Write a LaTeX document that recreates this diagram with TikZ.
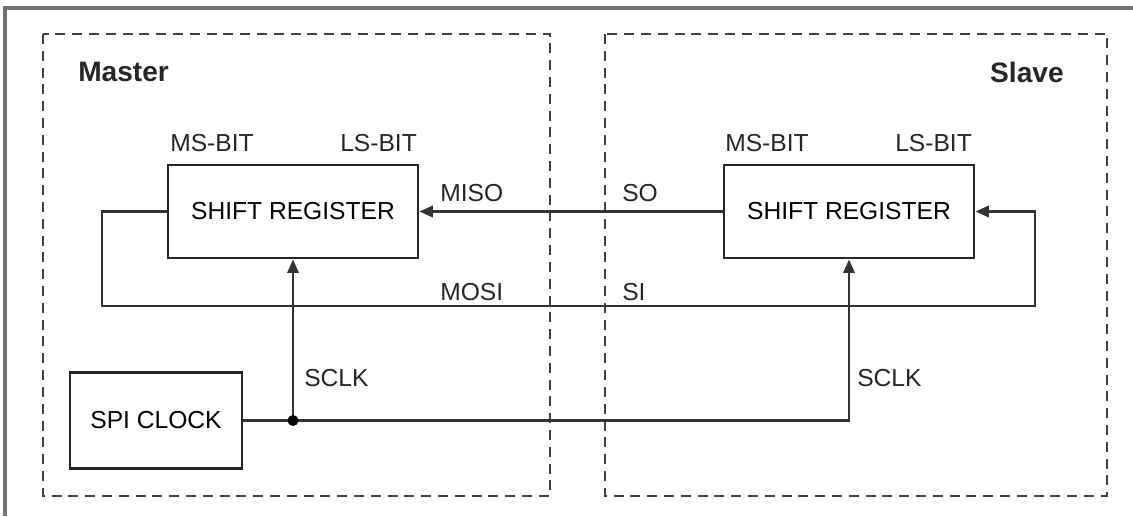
\documentclass[tikz,border=0pt]{standalone}
\usepackage{fontspec}
\setmainfont{Liberation Sans}
\usetikzlibrary{arrows.meta}
\tikzset{reg/.style = {draw=black!85, line width=1.8pt, minimum width=6.25cm, minimum height=2.33cm, inner sep=0pt, font=\fontsize{17.5}{20}\selectfont},
  lbl/.style = {anchor=west, inner sep=0pt, text=black!85, font=\fontsize{17.5}{20}\selectfont},
  ttl/.style = {inner sep=0pt, text=black!85, font=\fontsize{20}{24}\selectfont\bfseries},
  sig/.style = {draw=black!80, line width=2pt},
  tip/.style = {-{Triangle[length=0.34cm, width=0.28cm]}},
  side/.style = {draw=black!75, line width=1.7pt, dash pattern=on 0.25cm off 0.17cm}}

\begin{document}
\begin{tikzpicture}[x=0.025cm, y=-0.025cm]
        \useasboundingbox (0,0) rectangle (1133,516);
        \draw [black!55, line width=2.4pt] (5,516) -- (5,8) -- (1133,8);
        \draw [side] (43,34) rectangle (550,496);
        \draw [side] (605,34) rectangle (1107,496);
        \node [ttl, anchor=west] (master) at (78,72) {Master};
        \node [ttl, anchor=east] (slave) at (1064,72) {Slave};
        \node [reg] (mreg) at (293,211.5) {SHIFT REGISTER};
        \node [reg] (sreg) at (849,211.5) {SHIFT REGISTER};
        \node [reg, minimum width=4.3cm, minimum height=2.4cm] (clk) at (156,420.5) {SPI CLOCK};
        \node [lbl] (mmsb) at (170,143) {MS-BIT};
        \node [lbl] (mlsb) at (340,143) {LS-BIT};
        \node [lbl] (smsb) at (725,143) {MS-BIT};
        \node [lbl] (slsb) at (895,143) {LS-BIT};
        \node [lbl] (miso) at (440,193) {MISO};
        \node [lbl] (so) at (622,193) {SO};
        \node [lbl] (mosi) at (440,292) {MOSI};
        \node [lbl] (si) at (622,292) {SI};
        \node [lbl] (mclk) at (304,378) {SCLK};
        \node [lbl] (sclk) at (857,378) {SCLK};
        \coordinate (tap) at (293,420.5);
        \draw [sig, tip] (sreg.west) -- (mreg.east);
        \draw [sig, tip] (mreg.west) -| (102,306) -| (1035,211.5) -- (sreg.east);
        \draw [sig, tip] (clk.east) -| (sreg.south);
        \draw [sig, tip] (tap) -- (mreg.south);
        \fill [black] (tap) circle (5.5);
      \end{tikzpicture}
\end{document}
